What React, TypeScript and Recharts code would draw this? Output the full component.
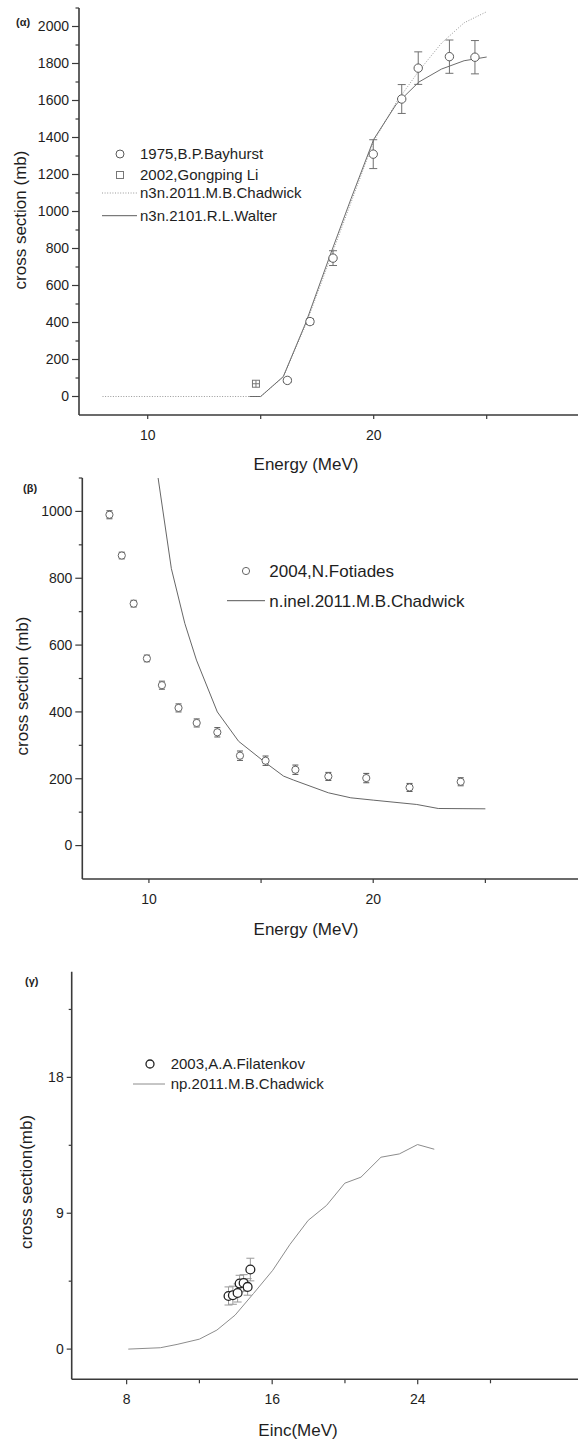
import React from "react";
import { ComposedChart, Line, Scatter, ErrorBar, XAxis, YAxis } from "recharts";

const FONT = "'Liberation Sans', Arial, sans-serif";
const AXIS = "#3a3a3a";
const TEXT = "#1e1e1e";

// ---- panel (α): n,3n ----
const bayhurstE = [16.18, 17.18, 18.2, 19.98, 21.24, 21.97, 23.35, 24.48];
const bayhurstXs = [87, 405, 748, 1310, 1608, 1775, 1837, 1834];
const bayhurstErr = [12, 15, 40, 78, 78, 88, 90, 90];
const liE = [14.79];
const liXs = [69];
const liErr = [10];
const chadwickN3nE = [8, 14.5, 15, 16, 17, 18, 19, 20, 21, 22, 23, 24, 25];
const chadwickN3nXs = [0, 0, 0, 105, 390, 720, 1050, 1380, 1590, 1760, 1910, 2020, 2080];
const walterE = [14.5, 15, 16, 17, 18, 19, 20, 21, 22, 23, 24, 25];
const walterXs = [0, 0, 108, 400, 740, 1070, 1390, 1580, 1700, 1770, 1815, 1835];

// ---- panel (β): inelastic ----
const fotiadesE = [8.24, 8.79, 9.32, 9.91, 10.58, 11.32, 12.13, 13.05, 14.06, 15.2, 16.53, 18.0, 19.69, 21.62, 23.9];
const fotiadesXs = [990, 868, 724, 560, 480, 412, 367, 339, 269, 254, 227, 207, 202, 174, 191];
const fotiadesErr = [12, 10, 10, 10, 12, 12, 12, 14, 14, 14, 14, 12, 14, 12, 12];
const inelE = [10.41, 11.0, 11.6, 12.12, 13.05, 14.0, 15.2, 16.0, 16.45, 18.0, 19.0, 20.0, 21.94, 22.9, 25.0];
const inelXs = [1100, 829, 665, 555, 400, 312, 248, 208, 196, 158, 143, 136, 123, 111, 110];

// ---- panel (γ): n,p ----
const filatenkovE = [13.6, 13.84, 14.1, 14.21, 14.43, 14.65, 14.8];
const filatenkovXs = [3.52, 3.57, 3.72, 4.34, 4.38, 4.12, 5.27];
const filatenkovErr = [0.6, 0.6, 0.6, 0.55, 0.55, 0.55, 0.75];
const npE = [8.09, 9.85, 10.77, 12.0, 12.96, 13.96, 14.97, 16.03, 16.98, 17.98, 18.99, 19.99, 20.88, 21.98, 22.99, 23.99, 24.91];
const npXs = [0, 0.09, 0.31, 0.66, 1.26, 2.25, 3.68, 5.22, 6.94, 8.53, 9.52, 10.99, 11.39, 12.71, 12.93, 13.55, 13.24];

const pts = (xs: number[], ys: number[], errs?: number[]) =>
  xs.map((x, i) => ({ x, y: ys[i], err: errs ? errs[i] : 0 }));

function makeTick(side: "left" | "bottom", majors: number[], majorLen: number, minorLen: number, fontSize: number) {
  return (props: any) => {
    const { x, y, payload } = props;
    const v = payload.value;
    const major = majors.includes(v);
    const len = major ? majorLen : minorLen;
    if (side === "left") {
      return (
        <g>
          <line x1={x - len} y1={y} x2={x} y2={y} stroke={AXIS} strokeWidth={1.2} />
          {major && (
            <text x={x - majorLen - 3} y={y} dy="0.35em" textAnchor="end" fontSize={fontSize} fill={TEXT}>
              {v}
            </text>
          )}
        </g>
      );
    }
    return (
      <g>
        <line x1={x} y1={y} x2={x} y2={y + len} stroke={AXIS} strokeWidth={1.2} />
        {major && (
          <text x={x} y={y + 20} dy="0.35em" textAnchor="middle" fontSize={fontSize} fill={TEXT}>
            {v}
          </text>
        )}
      </g>
    );
  };
}

const openCircle = (r: number, stroke: string, sw = 1) => (p: any) =>
  <circle cx={p.cx} cy={p.cy} r={r} fill="#fff" stroke={stroke} strokeWidth={sw} />;
const openSquare = (p: any) => (
  <g>
    <rect x={p.cx - 3.5} y={p.cy - 3.5} width={7} height={7} fill="#fff" stroke="#777" />
    <line x1={p.cx - 3.5} y1={p.cy} x2={p.cx + 3.5} y2={p.cy} stroke="#777" />
    <line x1={p.cx} y1={p.cy - 3.5} x2={p.cx} y2={p.cy + 3.5} stroke="#777" />
  </g>
);

const range = (a: number, b: number, s: number) => {
  const out: number[] = [];
  for (let v = a; v <= b + 1e-9; v += s) out.push(Math.round(v * 100) / 100);
  return out;
};

function PanelAlpha() {
  return (
    <ComposedChart width={578} height={480} margin={{ top: 8, right: 0, left: 19, bottom: 35 }}>
      <XAxis dataKey="x" type="number" domain={[6.96, 29.04]} allowDataOverflow ticks={[10, 15, 20, 25]}
        interval={0} height={30} tickSize={0} tickMargin={0} axisLine={{ stroke: AXIS, strokeWidth: 1.6 }}
        tick={makeTick("bottom", [10, 20], 4, 4, 14)} />
      <YAxis dataKey="y" type="number" domain={[-100, 2100]} allowDataOverflow ticks={range(0, 2100, 100)}
        interval={0} width={60} tickSize={0} tickMargin={0} axisLine={{ stroke: AXIS, strokeWidth: 1.6 }}
        tick={makeTick("left", range(0, 2000, 200), 7, 3.5, 14)} />
      <Line data={pts(chadwickN3nE, chadwickN3nXs)} dataKey="y" type="linear" stroke="#999" strokeWidth={1}
        strokeDasharray="1 1.6" dot={false} isAnimationActive={false} />
      <Line data={pts(walterE, walterXs)} dataKey="y" type="linear" stroke="#5c5c5c" strokeWidth={0.9}
        dot={false} isAnimationActive={false} />
      <Scatter data={pts(bayhurstE, bayhurstXs, bayhurstErr)} shape={openCircle(4.2, "#5a5a5a")} isAnimationActive={false}>
        <ErrorBar dataKey="err" direction="y" width={4} stroke="#707070" strokeWidth={1} />
      </Scatter>
      <Scatter data={pts(liE, liXs, liErr)} shape={openSquare} isAnimationActive={false} />
    </ComposedChart>
  );
}

function PanelBeta() {
  return (
    <ComposedChart width={578} height={480} margin={{ top: 38, right: 0, left: 22.3, bottom: 11 }}>
      <XAxis dataKey="x" type="number" domain={[7.03, 29.13]} allowDataOverflow ticks={[10, 15, 20, 25]}
        interval={0} height={30} tickSize={0} tickMargin={0} axisLine={{ stroke: AXIS, strokeWidth: 1.6 }}
        tick={makeTick("bottom", [10, 20], 4, 4, 14)} />
      <YAxis dataKey="y" type="number" domain={[-100, 1100]} allowDataOverflow ticks={range(0, 1100, 100)}
        interval={0} width={60} tickSize={0} tickMargin={0} axisLine={{ stroke: AXIS, strokeWidth: 1.6 }}
        tick={makeTick("left", range(0, 1000, 200), 7, 3.5, 14)} />
      <Line data={pts(inelE, inelXs)} dataKey="y" type="linear" stroke="#555" strokeWidth={0.9}
        dot={false} isAnimationActive={false} />
      <Scatter data={pts(fotiadesE, fotiadesXs, fotiadesErr)} shape={openCircle(3.6, "#666")} isAnimationActive={false}>
        <ErrorBar dataKey="err" direction="y" width={3} stroke="#555" strokeWidth={1} />
      </Scatter>
    </ComposedChart>
  );
}

function PanelGamma() {
  return (
    <ComposedChart width={578} height={480} margin={{ top: 31.7, right: 0, left: 11.7, bottom: 10.7 }}>
      <XAxis dataKey="x" type="number" domain={[4.98, 32.81]} allowDataOverflow ticks={[8, 12, 16, 20, 24, 28]}
        interval={0} height={30} tickSize={0} tickMargin={0} axisLine={{ stroke: AXIS, strokeWidth: 1.6 }}
        tick={makeTick("bottom", [8, 16, 24], 5, 4, 14)} />
      <YAxis dataKey="y" type="number" domain={[-2, 25]} allowDataOverflow ticks={[0, 4.5, 9, 13.5, 18, 22.5]}
        interval={0} width={60} tickSize={0} tickMargin={0} axisLine={{ stroke: AXIS, strokeWidth: 1.6 }}
        tick={makeTick("left", [0, 9, 18], 5, 3, 14)} />
      <Line data={pts(npE, npXs)} dataKey="y" type="linear" stroke="#8c8c8c" strokeWidth={1}
        dot={false} isAnimationActive={false} />
      <Scatter data={pts(filatenkovE, filatenkovXs, filatenkovErr)} shape={openCircle(4.4, "#222", 1.3)} isAnimationActive={false}>
        <ErrorBar dataKey="err" direction="y" width={4} stroke="#999" strokeWidth={1} />
      </Scatter>
    </ComposedChart>
  );
}

function Overlay() {
  const t = (x: number, y: number, s: string, size: number, extra: any = {}) => (
    <text x={x} y={y} dy="0.35em" fontSize={size} fill={TEXT} {...extra}>{s}</text>
  );
  const vt = (x: number, y: number, s: string) => (
    <text x={x} y={y} dy="0.35em" fontSize={17} fill={TEXT} textAnchor="middle" transform={`rotate(-90 ${x} ${y})`}>{s}</text>
  );
  return (
    <svg width={578} height={1443} style={{ position: "absolute", left: 0, top: 0, pointerEvents: "none", fontFamily: FONT }}>
      {/* panel (α) */}
      {t(16, 22, "(α)", 11, { fontWeight: "bold" })}
      {t(306, 464, "Energy (MeV)", 17, { textAnchor: "middle" })}
      {vt(20, 220, "cross section (mb)")}
      <circle cx={120} cy={154} r={4} fill="#fff" stroke="#5a5a5a" />
      {t(140, 154, "1975,B.P.Bayhurst", 15)}
      <rect x={116.5} y={171.5} width={7} height={7} fill="#fff" stroke="#777" />
      {t(140, 175, "2002,Gongping Li", 15)}
      <line x1={102} y1={193} x2={138} y2={193} stroke="#999" strokeDasharray="1 1.6" />
      {t(140, 193, "n3n.2011.M.B.Chadwick", 15)}
      <line x1={102} y1={215.7} x2={137} y2={215.7} stroke="#5c5c5c" />
      {t(140, 215.7, "n3n.2101.R.L.Walter", 15)}

      {/* panel (β) */}
      {t(23, 488, "(β)", 11, { fontWeight: "bold" })}
      {t(306, 929, "Energy (MeV)", 17, { textAnchor: "middle" })}
      {vt(22.5, 686, "cross section (mb)")}
      <circle cx={246} cy={571} r={3.6} fill="#fff" stroke="#666" />
      {t(269.3, 571, "2004,N.Fotiades", 17)}
      <line x1={227} y1={600.7} x2={265} y2={600.7} stroke="#555" />
      {t(269.3, 600.7, "n.inel.2011.M.B.Chadwick", 17)}

      {/* panel (γ) */}
      {t(25, 981, "(γ)", 11, { fontWeight: "bold" })}
      {t(298, 1430, "Einc(MeV)", 17, { textAnchor: "middle" })}
      {vt(26, 1182, "cross section(mb)")}
      <circle cx={150} cy={1064} r={4} fill="#fff" stroke="#222" strokeWidth={1.3} />
      {t(170.7, 1064, "2003,A.A.Filatenkov", 15)}
      <line x1={133} y1={1084} x2={165} y2={1084} stroke="#8c8c8c" />
      {t(170.7, 1084, "np.2011.M.B.Chadwick", 15)}
    </svg>
  );
}

export default function App() {
  return (
    <div style={{ position: "absolute", left: 0, top: 0, width: 578, height: 1443, background: "#fff", fontFamily: FONT, overflow: "hidden" }}>
      <div style={{ position: "absolute", left: 0, top: 0 }}><PanelAlpha /></div>
      <div style={{ position: "absolute", left: 0, top: 440 }}><PanelBeta /></div>
      <div style={{ position: "absolute", left: 0, top: 940 }}><PanelGamma /></div>
      <Overlay />
    </div>
  );
}
